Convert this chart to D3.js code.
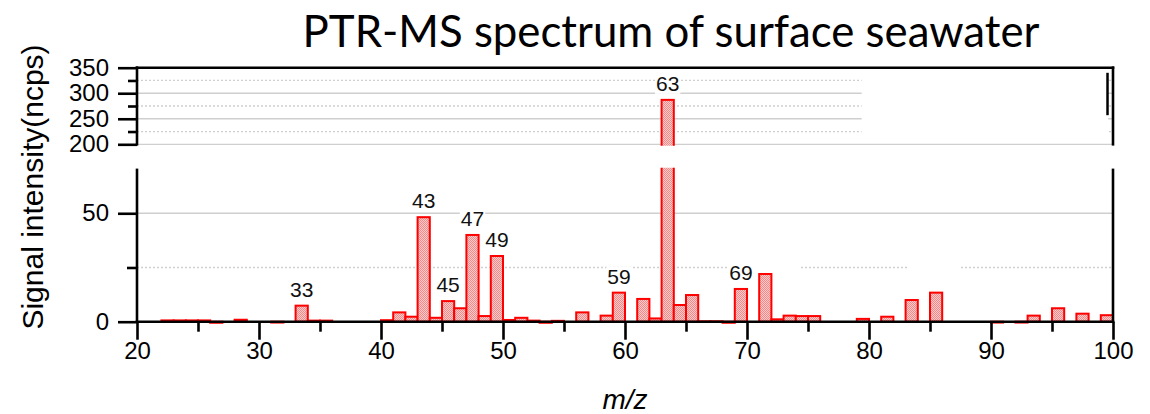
<!DOCTYPE html>
<html>
<head>
<meta charset="utf-8">
<script src="https://cdn.jsdelivr.net/npm/d3@7"></script>
<style>
  html, body { margin: 0; padding: 0; background: #fff; }
  svg { display: block; }
</style>
</head>
<body>
<script>
// ---- data ----
const mz = [22,23,24,25,26,28,31,33,34,35,
            40,41,42,43,44,45,46,47,48,49,
            50,51,52,53,54,56,58,59,61,62,
            63,64,65,66,67,68,69,71,72,73,
            74,75,79,81,83,85,90,92,93,95,
            97,99];
const intensity = [0.6,0.6,0.6,0.6,-0.5,0.9,-0.4,7.4,0.5,0.5,
                   0.7,4.3,2.3,48.2,1.8,9.5,6.2,40.0,2.6,30.3,
                   0.8,1.8,0.5,-0.5,0.4,4.3,2.8,13.4,10.5,1.5,
                   287,7.7,12.3,0.2,0.2,-0.5,15.1,22.0,1.1,2.8,
                   2.6,2.6,1.3,2.3,10.0,13.4,-0.4,-0.4,2.8,6.2,
                   3.7,3.0];
const labeledPeaks = [33,43,45,47,49,59,63,69];
const xMajorTicks = [20,30,40,50,60,70,80,90,100];
const xMinorTicks = [25,35,45,55,65,75,85,95];
const lowMajorTicks = [0,50];
const lowMinorTicks = [25];
const upMajorTicks = [200,250,300,350];
const upMinorTicks = [225,275,325];
const titleText = "PTR-MS spectrum of surface seawater";
const yTitle = "Signal intensity(ncps)";

const W = 1150, H = 414;
const data = mz.map((m, i) => ({ m, v: intensity[i] }));

const svg = d3.select("body").append("svg").attr("width", W).attr("height", H);

const xs = d3.scaleLinear([20, 100], [137, 1113]);
const yLow = d3.scaleLinear([0, 70], [321.7, 169.9]);
const yUp = d3.scaleLinear([200, 350], [144.3, 67.7]);

const defs = svg.append("defs");
const pat = defs.append("pattern").attr("id", "dots")
  .attr("width", 2).attr("height", 2).attr("patternUnits", "userSpaceOnUse");
pat.append("rect").attr("width", 2).attr("height", 2).attr("fill", "#ffcaca");
pat.append("rect").attr("width", 1).attr("height", 1).attr("fill", "#ef8a8a");
pat.append("rect").attr("x", 1).attr("y", 1).attr("width", 1).attr("height", 1).attr("fill", "#ef8a8a");

defs.append("clipPath").attr("id", "clipUp").append("rect")
  .attr("x", 0).attr("y", yUp(350) - 5).attr("width", W).attr("height", yUp(197) - yUp(350) + 5);
defs.append("clipPath").attr("id", "clipLow").append("rect")
  .attr("x", 0).attr("y", yLow(71)).attr("width", W).attr("height", H - yLow(71));

const gridC = "#cfcfcf";
const x0 = xs(20), x1 = xs(100);

// ---- grids ----
const grid = svg.append("g");
function hline(y, dashed) {
  grid.append("line").attr("x1", x0).attr("x2", x1).attr("y1", y).attr("y2", y)
    .attr("stroke", gridC).attr("stroke-width", 1.3)
    .attr("stroke-dasharray", dashed ? "2,2" : null);
}
upMajorTicks.filter(t => t < 350).forEach(t => hline(yUp(t), false));
upMinorTicks.forEach(t => hline(yUp(t), true));
lowMajorTicks.filter(t => t > 0).forEach(t => hline(yLow(t), false));
lowMinorTicks.forEach(t => hline(yLow(t), true));

// white boxes that hide parts of the grid in the reference
svg.append("rect").attr("x", xs(79.4)).attr("y", yUp(347))
  .attr("width", xs(99.6) - xs(79.4)).attr("height", yUp(208) - yUp(347)).attr("fill", "#fff");
[[70.5, 74.4], [83.2, 87.5]].forEach(([a, b]) => {
  svg.append("rect").attr("x", xs(a)).attr("y", yLow(27))
    .attr("width", xs(b) - xs(a)).attr("height", yLow(23) - yLow(27)).attr("fill", "#fff");
});
svg.append("line").attr("x1", xs(99.55)).attr("x2", xs(99.55))
  .attr("y1", yUp(340)).attr("y2", yUp(257)).attr("stroke", "#000").attr("stroke-width", 2.5);

// ---- bars ----
function drawBars(clip, y) {
  const g = svg.append("g").attr("clip-path", `url(#${clip})`);
  g.selectAll("rect").data(data).join("rect")
    .attr("x", d => xs(d.m))
    .attr("width", d => xs(d.m + 1) - xs(d.m))
    .attr("y", d => Math.min(y(d.v), y(0)))
    .attr("height", d => Math.abs(y(0) - y(d.v)))
    .attr("fill", "url(#dots)")
    .attr("stroke", "#ff0000")
    .attr("stroke-width", 2);
}
drawBars("clipLow", yLow);
drawBars("clipUp", yUp);

// ---- axes ----
const axC = "#000", axW = 2.6;
const fontTick = "'Liberation Sans', Arial, sans-serif";
function styleAxis(g) {
  g.select(".domain").remove();
  g.selectAll(".tick line").attr("stroke", axC).attr("stroke-width", axW);
  g.selectAll(".tick text").attr("fill", "#000").attr("font-family", fontTick).attr("font-size", 24);
}
// bottom axis
svg.append("g").attr("transform", `translate(0,${yLow(0)})`)
  .call(d3.axisBottom(xs).tickValues(xMajorTicks).tickSize(18).tickPadding(2).tickFormat(d3.format("d")))
  .call(styleAxis);
svg.append("g").attr("transform", `translate(0,${yLow(0)})`)
  .call(d3.axisBottom(xs).tickValues(xMinorTicks).tickSize(10).tickFormat(""))
  .call(styleAxis);
// lower left axis
svg.append("g").attr("transform", `translate(${x0},0)`)
  .call(d3.axisLeft(yLow).tickValues(lowMajorTicks).tickSize(19).tickPadding(9))
  .call(styleAxis);
svg.append("g").attr("transform", `translate(${x0},0)`)
  .call(d3.axisLeft(yLow).tickValues(lowMinorTicks).tickSize(10).tickFormat(""))
  .call(styleAxis);
// upper left axis
svg.append("g").attr("transform", `translate(${x0},0)`)
  .call(d3.axisLeft(yUp).tickValues(upMajorTicks).tickSize(19).tickPadding(9))
  .call(styleAxis);
svg.append("g").attr("transform", `translate(${x0},0)`)
  .call(d3.axisLeft(yUp).tickValues(upMinorTicks).tickSize(9).tickFormat(""))
  .call(styleAxis);

// axis lines
const axes = svg.append("g").attr("stroke", axC).attr("stroke-width", axW).attr("stroke-linecap", "square");
axes.append("line").attr("x1", x0).attr("x2", x1).attr("y1", yLow(0)).attr("y2", yLow(0));
axes.append("line").attr("x1", x0).attr("x2", x0).attr("y1", yLow(70)).attr("y2", yLow(0));
axes.append("line").attr("x1", x1).attr("x2", x1).attr("y1", yLow(70)).attr("y2", yLow(0));
axes.append("line").attr("x1", x0).attr("x2", x1).attr("y1", yUp(350)).attr("y2", yUp(350));
axes.append("line").attr("x1", x0).attr("x2", x0).attr("y1", yUp(350)).attr("y2", yUp(200));
axes.append("line").attr("x1", x1).attr("x2", x1).attr("y1", yUp(350)).attr("y2", yUp(200));

// ---- peak labels ----
const lab = svg.append("g");
labeledPeaks.forEach(m => {
  const d = data.find(e => e.m === m);
  const y = d.v > 70 ? yUp(d.v) : yLow(d.v);
  const t = lab.append("text").attr("x", xs(m + 0.5)).attr("y", y - 9)
    .attr("text-anchor", "middle").attr("font-family", fontTick).attr("font-size", 21)
    .attr("fill", "#111").text(m);
  const bb = t.node().getBBox();
  lab.insert("rect", () => t.node()).attr("x", bb.x - 1).attr("y", bb.y + 2)
    .attr("width", bb.width + 2).attr("height", bb.height - 3).attr("fill", "#fff");
});

// ---- titles ----
const title = svg.append("text").attr("x", 671).attr("y", 47).attr("text-anchor", "middle")
  .attr("font-family", "Lato, 'Open Sans', sans-serif").attr("font-size", 40).attr("fill", "#000")
  .text(titleText);
const tw = title.node().getComputedTextLength();
title.attr("font-size", 40 * 737 / tw);

svg.append("text").attr("transform", `translate(43,${187}) rotate(-90)`)
  .attr("text-anchor", "middle").attr("font-family", fontTick).attr("font-size", 30)
  .attr("fill", "#000").text(yTitle);

svg.append("text").attr("x", xs(60)).attr("y", 409).attr("text-anchor", "middle")
  .attr("font-family", fontTick).attr("font-style", "italic").attr("font-size", 28)
  .attr("fill", "#000").text("m/z");
</script>
</body>
</html>
